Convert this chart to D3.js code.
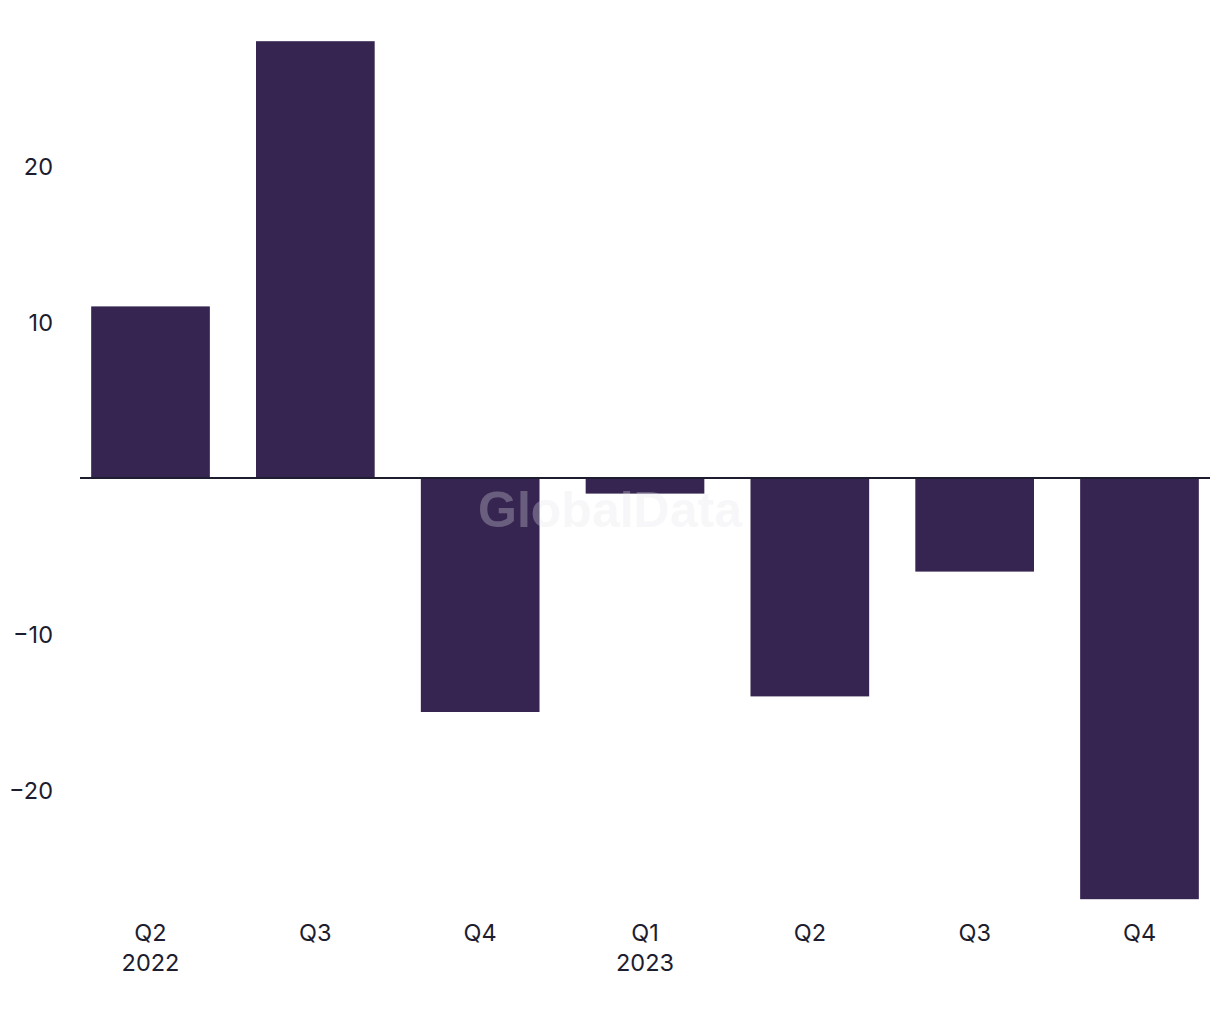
<!DOCTYPE html>
<html><head><meta charset="utf-8">
<script src="https://cdn.jsdelivr.net/npm/d3@7"></script>
<style>body{margin:0;background:#fff}svg{display:block}</style>
</head><body><svg id="c" width="1220" height="1020"></svg>
<script>
const categories = ["Q2|2022","Q3","Q4","Q1|2023","Q2b","Q3b","Q4b"];
const tickLabels = [["Q2","2022"],["Q3"],["Q4"],["Q1","2023"],["Q2"],["Q3"],["Q4"]];
const values = [11, 28, -15, -1, -14, -6, -27];
const yTicks = [-20, -10, 10, 20];

const svg = d3.select("#c");
const x = d3.scaleBand().domain(categories).range([68.1, 1221.9]).paddingInner(0.28).paddingOuter(0.14);
const y = d3.scaleLinear().domain([0, 10]).range([478, 322]);
const font = "Inter, 'Liberation Sans', sans-serif";
const ink = "#1d1d2f";

svg.append("g").selectAll("rect").data(values).join("rect")
  .attr("x", (d,i) => x(categories[i]))
  .attr("width", x.bandwidth())
  .attr("y", d => y(Math.max(0,d)))
  .attr("height", d => Math.abs(y(d) - y(0)))
  .attr("fill", "#362451");

svg.append("line").attr("x1", 80).attr("x2", 1210).attr("y1", y(0)).attr("y2", y(0))
  .attr("stroke", ink).attr("stroke-width", 2);

const yAxis = d3.axisLeft(y).tickValues(yTicks).tickSize(0).tickPadding(0)
  .tickFormat(d => d < 0 ? "\u2212" + Math.abs(d) : d);
const ya = svg.append("g").attr("transform", "translate(53,0)").call(yAxis);
ya.select(".domain").remove();
ya.selectAll("text").attr("font-family", font).attr("font-size", 23.5).attr("fill", ink).attr("dy", "0.36em");

const xa = svg.append("g");
categories.forEach((c,i) => {
  const cx = x(c) + x.bandwidth()/2;
  const t = xa.append("text").attr("x", cx).attr("text-anchor","middle")
    .attr("font-family", font).attr("font-size", 23.5).attr("fill", ink);
  tickLabels[i].forEach((l,j) => t.append("tspan").attr("x", cx).attr("y", 940.5 + j*30).text(l));
});

svg.append("text").attr("x", 610).attr("y", 527).attr("text-anchor","middle")
  .attr("font-family", "'Liberation Sans', Arial, sans-serif").attr("font-weight","bold")
  .attr("font-size", 50).attr("fill", "#e6e6ea").attr("fill-opacity", 0.3).text("GlobalData");
</script></body></html>
